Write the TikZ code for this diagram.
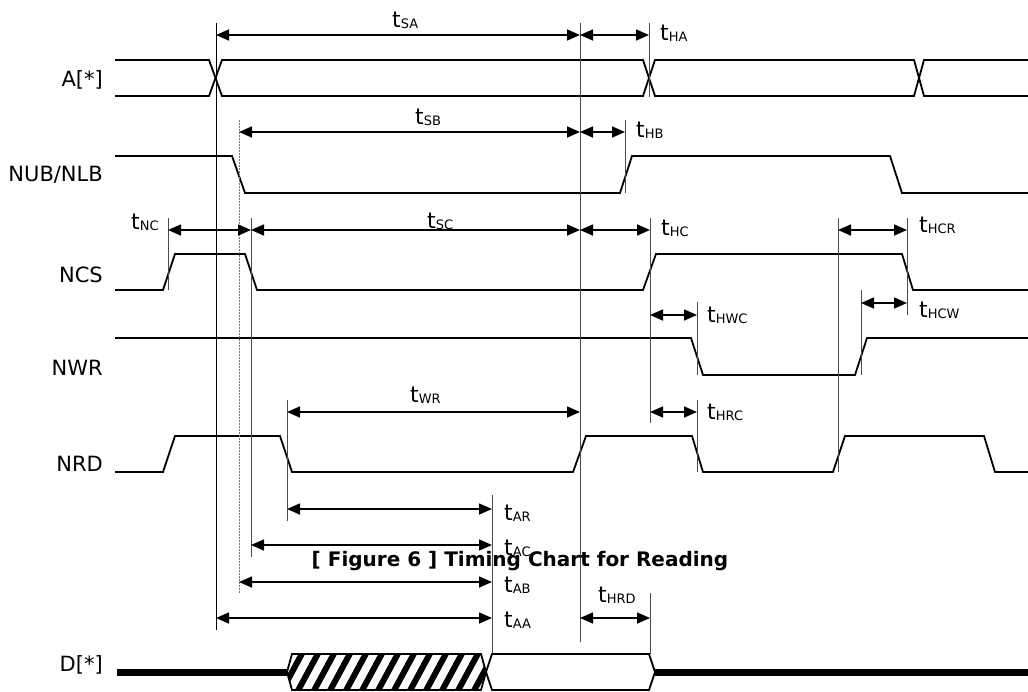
\documentclass[tikz,border=0pt]{standalone}
\usepackage{fontspec}
\setmainfont{DejaVu Sans}
\usetikzlibrary{arrows.meta}

% timing label: t with a small subscript
\newcommand{\tsub}[1]{t\raisebox{-1pt}{\fontsize{13}{13}\selectfont #1}}

\tikzset{
  sig/.style={line width=1.8pt, line join=miter},
  guide/.style={line width=1pt, black!70},
  dim/.style={<->, line width=1.6pt, >={Triangle[length=13pt, width=11pt]}},
  tlab/.style={anchor=base west, inner sep=0pt, font=\fontsize{22}{22}\selectfont},
  siglab/.style={anchor=east, inner sep=0pt, font=\fontsize{21}{21}\selectfont},
}

\begin{document}
\begin{tikzpicture}[x=1pt, y=-1pt, line cap=butt]

    \useasboundingbox (0,0) rectangle (1028,691);

    % Signal names
    \node[siglab] (A)   at (103,80)  {A[*]};
    \node[siglab] (NUB) at (103,175) {NUB/NLB};
    \node[siglab] (NCS) at (103,275) {NCS};
    \node[siglab] (NWR) at (103,368) {NWR};
    \node[siglab] (NRD) at (103,464) {NRD};
    \node[siglab] (D)   at (103,665) {D[*]};

    % Address bus
    \draw[sig] (115,60) -- (209,60) -- (222,96) -- (643,96) -- (655,60) -- (914,60) -- (924,96) -- (1028,96);
    \draw[sig] (115,96) -- (209,96) -- (222,60) -- (643,60) -- (655,96) -- (914,96) -- (924,60) -- (1028,60);

    % Strobes
    \draw[sig] (115,156) -- (232,156) -- (245,193) -- (620,193) -- (632,156) -- (890,156) -- (902,193) -- (1028,193);
    \draw[sig] (115,290) -- (163,290) -- (175,254) -- (245,254) -- (257,290) -- (643,290) -- (656,254)
        -- (902,254) -- (913,290) -- (1028,290);
    \draw[sig] (115,338) -- (691,338) -- (703,375) -- (855,375) -- (867,338) -- (1028,338);
    \draw[sig] (115,472) -- (163,472) -- (175,436) -- (280,436) -- (292,472) -- (573,472) -- (586,436)
        -- (692,436) -- (703,472) -- (833,472) -- (845,436) -- (984,436) -- (995,472) -- (1028,472);

    % Data bus
    \draw[line width=7pt] (117,672) -- (287,672);
    \draw[line width=7pt] (655,672) -- (1028,672);
    \begin{scope}
        \clip (287,672) -- (292,654) -- (481,654) -- (486,672) -- (481,690) -- (292,690) -- cycle;
        \foreach \i in {0,...,14}
            \draw[line width=6pt] (262+\i*16,698) -- ++(27,-50);
    \end{scope}
    \draw[sig] (287,672) -- (292,654) -- (481,654) -- (486,672) -- (481,690) -- (292,690) -- cycle;
    \draw[sig] (486,672) -- (492,654) -- (649,654) -- (655,672) -- (649,690) -- (492,690) -- cycle;

    % Reference lines
    \draw[guide, black] (216,23) -- (216,630);
    \draw[guide, black!55, dash pattern=on 1.5pt off 1.5pt] (239,120) -- (239,593);
    \draw[guide] (251,218) -- (251,557);
    \draw[guide] (168,218) -- (168,290);
    \draw[guide] (287,400) -- (287,521);
    \draw[guide] (580,23) -- (580,642);
    \draw[guide] (649,23) -- (649,97);
    \draw[guide] (625,120) -- (625,193);
    \draw[guide] (650,218) -- (650,423);
    \draw[guide] (697,302) -- (697,375);
    \draw[guide] (697,400) -- (697,472);
    \draw[guide] (838,218) -- (838,472);
    \draw[guide] (907,218) -- (907,315);
    \draw[guide] (861,290) -- (861,375);
    \draw[guide] (492,495) -- (492,654);
    \draw[guide] (650,593) -- (650,654);

    % Timing arrows
    \draw[dim] (216,35) -- (580,35);
    \draw[dim] (580,35) -- (649,35);
    \draw[dim] (239,132) -- (580,132);
    \draw[dim] (580,132) -- (625,132);
    \draw[dim] (168,230) -- (251,230);
    \draw[dim] (251,230) -- (580,230);
    \draw[dim] (580,230) -- (650,230);
    \draw[dim] (838,230) -- (907,230);
    \draw[dim] (650,315) -- (697,315);
    \draw[dim] (861,303) -- (907,303);
    \draw[dim] (287,412) -- (580,412);
    \draw[dim] (650,412) -- (697,412);
    \draw[dim] (287,509) -- (492,509);
    \draw[dim] (251,545) -- (492,545);
    \draw[dim] (239,582) -- (492,582);
    \draw[dim] (216,618) -- (492,618);
    \draw[dim] (580,618) -- (650,618);

    % Timing labels
    \node[tlab] (tSA)  at (392,27)  {\tsub{SA}};
    \node[tlab] (tHA)  at (660,40)  {\tsub{HA}};
    \node[tlab] (tSB)  at (415,124) {\tsub{SB}};
    \node[tlab] (tHB)  at (636,137) {\tsub{HB}};
    \node[tlab] (tNC)  at (131,229) {\tsub{NC}};
    \node[tlab] (tSC)  at (427,228) {\tsub{SC}};
    \node[tlab] (tHC)  at (661,235) {\tsub{HC}};
    \node[tlab] (tHCR) at (919,232) {\tsub{HCR}};
    \node[tlab] (tHWC) at (707,322) {\tsub{HWC}};
    \node[tlab] (tHCW) at (919,317) {\tsub{HCW}};
    \node[tlab] (tWR)  at (410,402) {\tsub{WR}};
    \node[tlab] (tHRC) at (707,419) {\tsub{HRC}};
    \node[tlab] (tAR)  at (504,520) {\tsub{AR}};
    \node[tlab] (tAC)  at (504,555) {\tsub{AC}};
    \node[tlab] (tAB)  at (504,592) {\tsub{AB}};
    \node[tlab] (tAA)  at (504,627) {\tsub{AA}};
    \node[tlab] (tHRD) at (598,602) {\tsub{HRD}};

    % Caption
    \node[font=\bfseries\fontsize{20}{20}\selectfont, inner sep=0pt] (caption) at (520,561)
        {[ Figure 6 ] Timing Chart for Reading};

\end{tikzpicture}
\end{document}
